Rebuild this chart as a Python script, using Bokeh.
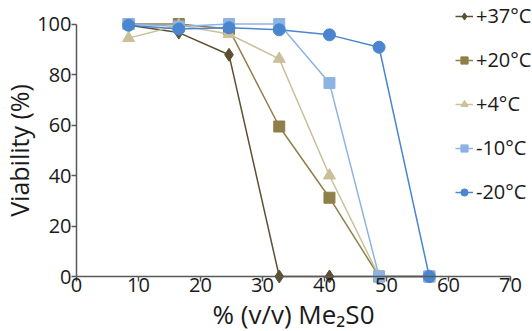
from bokeh.plotting import figure
from bokeh.models import Range1d, Label
from bokeh.embed import file_html
from bokeh.resources import INLINE

# data
conc = [8.4, 16.5, 24.6, 32.7, 40.8, 48.8, 56.9]
series_names = ["+37°C", "+20°C", "+4°C", "-10°C", "-20°C"]
v37 = [99.5, 96.6, 87.8, 0, 0, 0, 0]
v20 = [100, 100, 98, 59.4, 31.2, 0, 0]
v4 = [94.4, 99.5, 96, 86.2, 40, 0, 0]
vm10 = [100, 99, 100, 100, 76.6, 0, 0]
vm20 = [99.5, 98, 98.5, 97.7, 95.7, 90.8, 0]
x_ticks = [0, 10, 20, 30, 40, 50, 60, 70]
y_ticks = [0, 20, 40, 60, 80, 100]
x_title = "% (v/v) Me₂S0"
y_title = "Viability (%)"

colors = ["#5c5033", "#8f7f48", "#c9c09a", "#8db3e2", "#4a86cf"]
markers = ["diamond", "square", "triangle", "square", "circle"]
sizes = [13, 11, 12, 11, 12]
values = [v37, v20, v4, vm10, vm20]

FONT = "Open Sans"
TXT = "#1a1a1a"
W, H = 532, 331
# pixel anchors of the axes inside the canvas
X0_PX, X70_PX = 76, 510
Y0_PX, Y100_PX = 276, 23.5
sx = (X70_PX - X0_PX) / 70.0
sy = (Y0_PX - Y100_PX) / 100.0

p = figure(width=W, height=H, output_backend="svg", toolbar_location=None,
           x_range=Range1d(-X0_PX / sx, 70 + (W - X70_PX) / sx),
           y_range=Range1d(-(H - Y0_PX) / sy, 100 + Y100_PX / sy),
           min_border=0)
p.outline_line_color = None
p.grid.visible = False
p.background_fill_color = None
p.border_fill_color = "white"

for name, vals, c, m, s in zip(series_names, values, colors, markers, sizes):
    p.line(conc, vals, line_color=c, line_width=1.5, legend_label=name)
    p.scatter(conc, vals, marker=m, size=s, fill_color=c, line_color=c, legend_label=name)

for ax in (p.xaxis[0], p.yaxis[0]):
    ax.fixed_location = 0
    ax.axis_line_color = "#595959"
    ax.axis_line_width = 1.5
    ax.major_tick_line_color = "#595959"
    ax.major_tick_line_width = 1.5
    ax.major_tick_out = 5
    ax.major_tick_in = 0
    ax.minor_tick_line_color = None
    ax.major_label_text_font = FONT
    ax.major_label_text_font_size = "20px"
    ax.major_label_text_color = TXT
    ax.axis_label_text_font = FONT
    ax.axis_label_text_font_style = "normal"
    ax.axis_label_text_color = TXT

p.xaxis.ticker = x_ticks
p.yaxis.ticker = y_ticks
p.xaxis.bounds = (0, 70)
p.yaxis.bounds = (0, 100)
p.xaxis.major_label_standoff = -4
p.yaxis.major_label_standoff = 0

p.yaxis.axis_label = y_title
p.yaxis.axis_label_text_font_size = "25px"
p.yaxis.axis_label_standoff = -2

# x-axis title, centred under the axis
p.add_layout(Label(x=35, y=-(313 - Y0_PX) / sy, text=x_title, text_align="center",
                   text_baseline="middle", text_font=FONT, text_font_size="26px",
                   text_color=TXT))

lg = p.legend[0]
lg.location = (455, 126)
lg.border_line_color = None
lg.background_fill_alpha = 0
lg.padding = 0
lg.margin = 0
lg.spacing = 17
lg.glyph_width = 18
lg.glyph_height = 20
lg.label_height = 20
lg.label_standoff = 3
lg.label_text_font = FONT
lg.label_text_font_size = "20px"
lg.label_text_color = TXT

open("out.html", "w").write(file_html(p, INLINE))
